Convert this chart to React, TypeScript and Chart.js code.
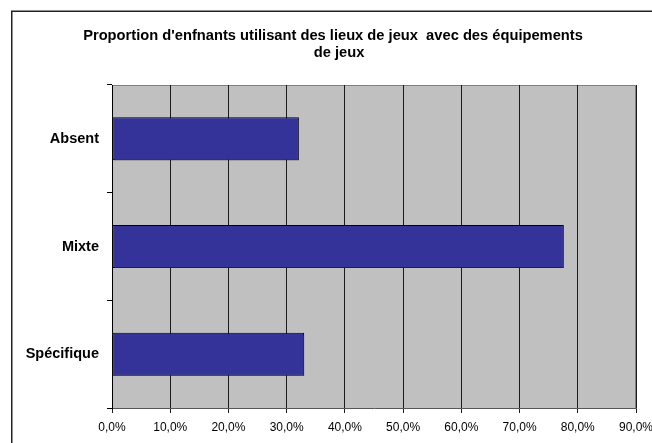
import React, { useEffect, useRef } from "react";
import { Chart, registerables } from "chart.js";

Chart.register(...registerables);

const titleLines = [
  "Proportion d'enfnants utilisant des lieux de jeux  avec des équipements",
  "de jeux",
];
const categories = ["Absent", "Mixte", "Spécifique"];
const values = [32.1, 77.6, 33.0];
const xMin = 0;
const xMax = 90;
const xStep = 10;

const FONT = "'Liberation Sans', Arial, sans-serif";

const framePlugin = {
  id: "frame",
  beforeDraw(chart: any) {
    const { ctx, chartArea } = chart;
    ctx.save();
    ctx.fillStyle = "#ffffff";
    ctx.fillRect(0, 0, chart.width, chart.height);
    // outer border
    ctx.strokeStyle = "#222222";
    ctx.lineWidth = 1.5;
    ctx.beginPath();
    ctx.moveTo(11.75, chart.height + 2);
    ctx.lineTo(11.75, 11.25);
    ctx.lineTo(chart.width + 2, 11.25);
    ctx.stroke();
    // plot background
    ctx.fillStyle = "#C0C0C0";
    ctx.fillRect(
      chartArea.left,
      chartArea.top,
      chartArea.right - chartArea.left,
      chartArea.bottom - chartArea.top
    );
    // plot border top / right
    ctx.strokeStyle = "#808080";
    ctx.lineWidth = 1;
    ctx.beginPath();
    ctx.moveTo(chartArea.left, chartArea.top + 0.5);
    ctx.lineTo(Math.round(chartArea.right) - 0.5, chartArea.top + 0.5);
    ctx.lineTo(Math.round(chartArea.right) - 0.5, chartArea.bottom);
    ctx.stroke();
    // title
    ctx.fillStyle = "#000000";
    ctx.font = `bold 14.7px ${FONT}`;
    ctx.textAlign = "center";
    ctx.textBaseline = "alphabetic";
    ctx.fillText(titleLines[0], 333, 40);
    ctx.fillText(titleLines[1], 339, 57);
    ctx.restore();
  },
  beforeDatasetsDraw(chart: any) {
    const ctx = chart.ctx;
    ctx.save();
    ctx.shadowColor = "rgba(60,60,60,0.6)";
    ctx.shadowOffsetX = 1.5;
    ctx.shadowOffsetY = 1.5;
    ctx.shadowBlur = 0;
  },
  afterDatasetsDraw(chart: any) {
    chart.ctx.restore();
  },
};

export default function App() {
  const ref = useRef<HTMLCanvasElement>(null);
  useEffect(() => {
    if (!ref.current) return;
    const chart = new Chart(ref.current, {
      type: "bar",
      data: {
        labels: categories,
        datasets: [
          {
            data: values,
            backgroundColor: "#333399",
            borderColor: "#000000",
            borderWidth: 1,
            borderSkipped: false,
            barPercentage: 0.4,
            categoryPercentage: 1,
          },
        ],
      },
      options: {
        indexAxis: "y",
        animation: false,
        responsive: false,
        devicePixelRatio: 1,
        layout: { padding: { top: 85, right: 16, left: 0, bottom: 0 } },
        plugins: {
          legend: { display: false },
          title: { display: false },
          tooltip: { enabled: false },
        },
        scales: {
          x: {
            min: xMin,
            max: xMax,
            ticks: {
              stepSize: xStep,
              color: "#000000",
              padding: 7,
              font: { family: FONT, size: 12 },
              callback: (v: any) => Number(v).toFixed(1).replace(".", ",") + "%",
            },
            grid: {
              color: "#1a1a1a",
              lineWidth: 1,
              tickLength: 5,
              drawOnChartArea: true,
            },
            border: { display: true, color: "#555555", width: 1 },
            afterFit(scale: any) {
              scale.height = 35;
              scale.paddingLeft = 0;
              scale.paddingRight = 0;
            },
          },
          y: {
            ticks: {
              color: "#000000",
              padding: 8,
              font: { family: FONT, size: 14.5, weight: "bold" },
            },
            grid: {
              offset: true,
              drawOnChartArea: false,
              color: "#000000",
              tickLength: 5,
            },
            border: { display: true, color: "#000000", width: 1 },
            afterFit(scale: any) {
              scale.width = 112;
              scale.paddingTop = 0;
              scale.paddingBottom = 0;
            },
          },
        },
      },
      plugins: [framePlugin],
    });
    return () => chart.destroy();
  }, []);
  return (
    <div style={{ position: "absolute", left: 0, top: 0, width: 652, height: 443 }}>
      <canvas ref={ref} width={652} height={443} />
    </div>
  );
}
